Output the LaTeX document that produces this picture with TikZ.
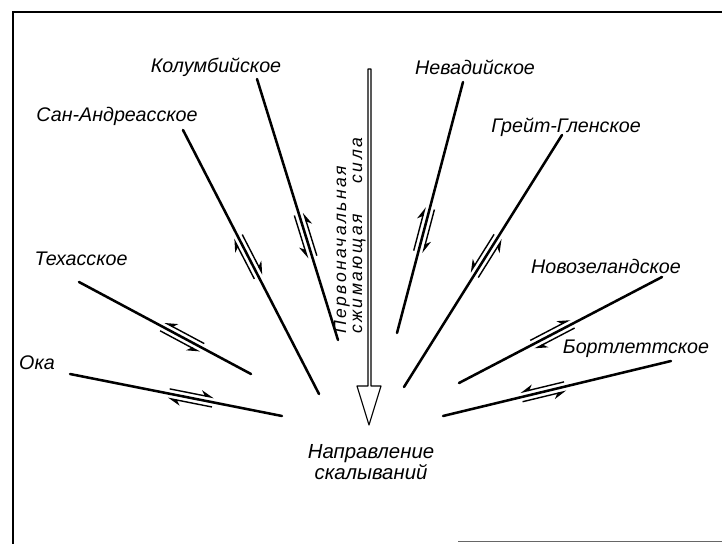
\documentclass[tikz,border=0pt]{standalone}
\usepackage{fontspec}
\setmainfont{Liberation Sans}
\newfontfamily\razryadka{Liberation Sans}[LetterSpace=14]
\usetikzlibrary{calc,arrows.meta}

\begin{document}
\begin{tikzpicture}[x=0.025cm, y=-0.025cm,
    razlom/.style={line width=1.8pt, line cap=round},
    polu/.style={line width=1pt},
    nadpis/.style={font=\fontsize{14}{13}\selectfont\itshape, inner sep=0pt}]
    \useasboundingbox (0,0) rectangle (722,544);
    % рамка
    \draw[line width=1.8pt] (13,544) -- (13,12) -- (722,12);
    \draw[line width=0.6pt, black!60] (458,541) -- (722,541);
    % концы разломов
    \coordinate (kol1) at (257,79);  \coordinate (kol2) at (338,340);
    \coordinate (san1) at (183,130); \coordinate (san2) at (319,394);
    \coordinate (tex1) at (79,282);  \coordinate (tex2) at (251,374);
    \coordinate (oka1) at (70,374);  \coordinate (oka2) at (282,416);
    \coordinate (nev1) at (463,82);  \coordinate (nev2) at (397,333);
    \coordinate (grg1) at (562,135); \coordinate (grg2) at (404,387);
    \coordinate (nzl1) at (662,277); \coordinate (nzl2) at (459,383);
    \coordinate (bor1) at (671,361); \coordinate (bor2) at (443,416);
    % разломы и стрелки смещения
    \foreach \r/\p/\s in {kol/0.6/-90, san/0.48/90, tex/0.6/-90, oka/0.57/90,
                          nev/0.59/90, grg/0.48/-90, nzl/0.54/90, bor/0.56/-90} {
        \draw[razlom] (\r1) -- (\r2);
        \coordinate (sm) at ($(\r1)!\p!(\r2)$);
        \ifnum\s>0
            \tikzset{ostrie/.style={-{Stealth[harpoon, length=8pt, width=7pt]}}}
        \else
            \tikzset{ostrie/.style={-{Stealth[harpoon, swap, length=8pt, width=7pt]}}}
        \fi
        \pgfmathsetmacro\so{\s+180}
        \draw[polu, ostrie] ($(sm)!-16pt!(\r2)!3.4pt!\s:(\r2)$) -- ($(sm)!16pt!(\r2)!3.4pt!\s:(\r2)$);
        \draw[polu, ostrie] ($(sm)!16pt!(\r2)!3.4pt!\so:(\r2)$) -- ($(sm)!-16pt!(\r2)!3.4pt!\so:(\r2)$);
    }
    % названия разломов
    \node[nadpis] (kol) at (216,67) {Колумбийское};
    \node[nadpis] (san) at (117,116) {Сан-Андреасское};
    \node[nadpis] (tex) at (81,259) {Техасское};
    \node[nadpis] (oka) at (37,363) {Ока};
    \node[nadpis] (nev) at (475,67) {Невадийское};
    \node[nadpis] (grg) at (566,127) {Грейт-Гленское};
    \node[nadpis] (nzl) at (606,266) {Новозеландское};
    \node[nadpis] (bor) at (636,349) {Бортлеттское};
    % сжимающая сила
    \draw[line width=0.8pt, line join=round] (368,69) -- (368,386) -- (357,386)
        -- (369,425) -- (381,386) -- (371,386) -- (371,69) -- cycle;
    \node[font=\fontsize{12.5}{11.5}\selectfont\razryadka\itshape, inner sep=0pt,
          rotate=90, anchor=south west, align=left] (sila) at (366,334)
        {Первоначальная\\сжимающая\hspace{22pt}сила};
    \node[nadpis, font=\fontsize{14.5}{13}\selectfont\itshape, align=center] (napr)
        at (371,462) {Направление\\скалываний};
\end{tikzpicture}
\end{document}
